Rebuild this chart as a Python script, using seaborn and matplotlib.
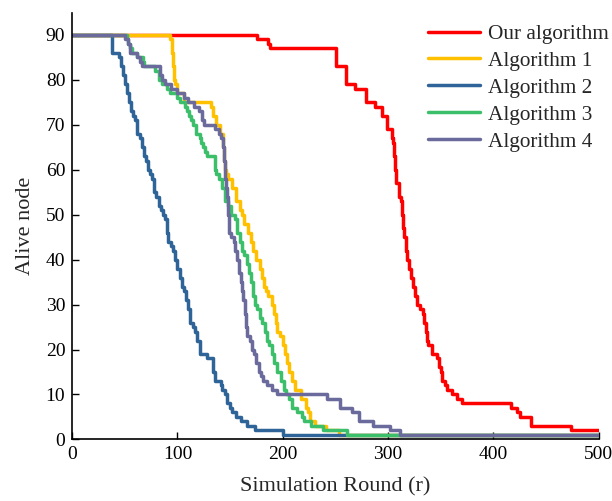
import matplotlib
matplotlib.use("Agg")
import matplotlib.pyplot as plt
import seaborn as sns
import pandas as pd

# ---- data (step points: round where value starts, alive nodes) ----
series_names = ["Our algorithm", "Algorithm 1", "Algorithm 2", "Algorithm 3", "Algorithm 4"]

ours_x = [0, 176, 186, 188, 251, 260, 269, 279, 288, 294, 299, 304, 305, 306, 307, 308, 310, 312,
          313, 314, 315, 317, 318, 320, 322, 324, 326, 328, 330, 333, 334, 336, 337, 338, 342, 347,
          348, 350, 351, 354, 356, 361, 366, 370, 417, 423, 425, 436, 474, 500]
ours_y = [90, 89, 88, 87, 83, 79, 78, 75, 74, 72, 69, 67, 66, 63, 60, 57, 54, 53,
          50, 47, 45, 42, 40, 38, 36, 34, 32, 30, 29, 28, 26, 24, 22, 21, 19, 18,
          16, 15, 13, 12, 11, 10, 9, 8, 7, 6, 5, 3, 2, 2]

alg1_x = [0, 93, 95, 96, 97, 98, 100, 106, 132, 134, 137, 140, 143, 144, 145, 146, 148, 152, 156,
          159, 161, 163, 167, 170, 172, 175, 178, 180, 182, 184, 186, 190, 192, 194, 195, 197, 200,
          202, 204, 206, 209, 212, 217, 222, 224, 226, 231, 241, 253, 258, 500]
alg1_y = [90, 89, 86, 83, 80, 79, 77, 75, 74, 72, 70, 68, 65, 62, 60, 59, 58, 56, 53,
          51, 50, 48, 46, 44, 42, 40, 38, 36, 34, 33, 32, 30, 28, 26, 24, 23, 21,
          19, 17, 15, 13, 11, 9, 7, 6, 4, 3, 2, 1, 1, 1]

alg2_x = [0, 38, 44, 46, 48, 50, 52, 54, 56, 58, 60, 62, 64, 66, 68, 70, 72, 74, 76, 78, 80, 82,
          84, 86, 88, 90, 91, 94, 96, 98, 100, 102, 104, 106, 108, 110, 112, 115, 117, 119, 121,
          128, 134, 136, 141, 142, 145, 147, 150, 152, 156, 160, 166, 174, 200, 500]
alg2_y = [90, 86, 85, 83, 81, 79, 77, 75, 73, 72, 71, 68, 67, 65, 63, 62, 60, 59, 58, 55, 54, 52,
          51, 50, 49, 46, 44, 43, 42, 40, 38, 36, 34, 33, 31, 29, 26, 25, 24, 22, 19,
          18, 15, 13, 12, 11, 10, 8, 7, 6, 5, 4, 3, 2, 1, 1]

alg3_x = [0, 52, 53, 55, 57, 62, 67, 68, 79, 82, 85, 90, 93, 100, 102, 107, 109, 111, 113, 115,
          118, 121, 122, 124, 126, 128, 136, 137, 139, 142, 145, 148, 151, 155, 157, 159, 161, 163,
          166, 168, 170, 172, 174, 176, 178, 180, 183, 185, 187, 190, 192, 195, 198, 201, 203, 206,
          209, 214, 218, 220, 227, 238, 261, 500]
alg3_y = [90, 89, 88, 87, 86, 85, 84, 83, 82, 80, 79, 78, 77, 76, 75, 74, 73, 72, 71, 70,
          68, 67, 66, 65, 64, 63, 60, 59, 58, 56, 53, 52, 50, 49, 46, 44, 42, 41,
          39, 37, 35, 32, 30, 29, 27, 26, 24, 22, 21, 19, 17, 15, 13, 11, 10, 9,
          7, 6, 5, 4, 3, 2, 1, 1]

alg4_x = [0, 50, 53, 55, 62, 64, 66, 83, 85, 88, 94, 100, 106, 110, 116, 120, 123, 125, 136, 139,
          141, 143, 144, 145, 146, 147, 148, 149, 151, 154, 155, 157, 158, 160, 161, 162, 164, 165,
          166, 169, 171, 173, 175, 177, 179, 181, 185, 190, 195, 242, 254, 266, 272, 286, 302, 311, 500]
alg4_y = [90, 89, 88, 86, 85, 84, 83, 81, 80, 79, 78, 77, 76, 75, 74, 73, 71, 70, 69, 68,
          67, 65, 62, 58, 56, 54, 50, 46, 45, 44, 42, 40, 37, 35, 33, 31, 28, 25,
          23, 22, 20, 19, 17, 15, 14, 13, 12, 11, 10, 9, 7, 6, 4, 3, 2, 1, 1]

x_ticks = [0, 100, 200, 300, 400, 500]
y_ticks = [0, 10, 20, 30, 40, 50, 60, 70, 80, 90]

colors = ["#FF0000", "#FFC000", "#2F6498", "#3CBF6A", "#6A6A9C"]

frames = []
for name, xs, ys in zip(series_names,
                        [ours_x, alg1_x, alg2_x, alg3_x, alg4_x],
                        [ours_y, alg1_y, alg2_y, alg3_y, alg4_y]):
    frames.append(pd.DataFrame({"round": xs, "alive": ys, "series": name}))
df = pd.concat(frames, ignore_index=True)

sns.set_theme(style="white")
plt.rcParams["font.family"] = ["Liberation Serif", "DejaVu Serif"]

fig = plt.figure(figsize=(6.12, 5.01), dpi=100)
ax = fig.add_axes([0.118, 0.123, 0.860, 0.852])

sns.lineplot(data=df, x="round", y="alive", hue="series", hue_order=series_names,
             palette=colors, estimator=None, sort=False, drawstyle="steps-post",
             linewidth=2.5, ax=ax)

ax.set_xlim(0, 500)
ax.set_ylim(0, 95)
ax.set_xticks(x_ticks)
ax.set_yticks(y_ticks)
ax.tick_params(direction="in", length=5, width=1.0, labelsize=14, colors="black",
               left=True, bottom=True, pad=5)
for s in ["top", "right"]:
    ax.spines[s].set_visible(False)
for s in ["left", "bottom"]:
    ax.spines[s].set_color("black")
    ax.spines[s].set_linewidth(1.2)

ax.set_xlabel("Simulation Round (r)", fontsize=16, labelpad=10)
ax.set_ylabel("Alive node", fontsize=16, labelpad=8)

handles, labels = ax.get_legend_handles_labels()
leg = ax.legend(handles, labels, loc="upper right", bbox_to_anchor=(0.998, 0.956),
                bbox_transform=fig.transFigure, frameon=False, fontsize=15.3,
                handlelength=2.45, handletextpad=0.35, labelspacing=0.33,
                borderaxespad=0.0, borderpad=0.1)
for line in leg.get_lines():
    line.set_linewidth(2.5)

fig.savefig("out.png", dpi=100)
